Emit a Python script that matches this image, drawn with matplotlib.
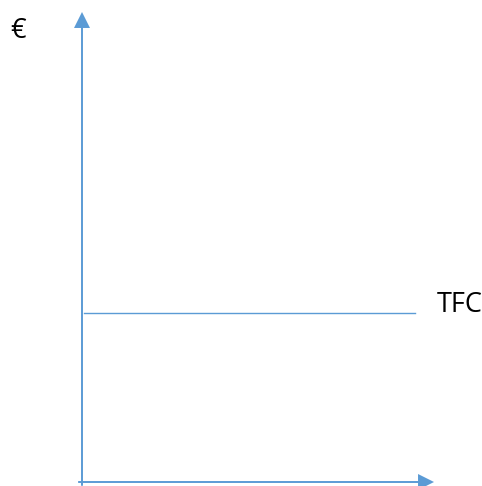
"""Total fixed cost (TFC) sketch: flat line against output."""

import matplotlib

matplotlib.use("Agg")
matplotlib.rcParams["font.family"] = ["Open Sans", "DejaVu Sans"]
import matplotlib.pyplot as plt  # noqa: E402

BLUE = "#5B9BD5"

# schematic values on a 0..10 scale
Q_RANGE = [0.06, 9.46]      # output span of the TFC line
TFC = [3.6, 3.6]            # fixed cost stays constant
AXIS_MAX = 10.0
Y_LABEL = "€"
LINE_LABEL = "TFC"

fig = plt.figure(figsize=(4.82, 4.86), dpi=100)
ax = fig.add_axes([82 / 482, 4 / 486, 352 / 482, 470 / 486])
ax.set_xlim(0, AXIS_MAX)
ax.set_ylim(0, AXIS_MAX)
ax.axis("off")

arrow = dict(width=1.4, headwidth=11.5, headlength=11.5, shrink=0,
             color=BLUE, lw=0)
# x axis
ax.annotate("", xy=(AXIS_MAX, 0), xytext=(-0.11, 0), arrowprops=arrow,
            annotation_clip=False)
# y axis
ax.annotate("", xy=(0, AXIS_MAX), xytext=(0, -0.08), arrowprops=arrow,
            annotation_clip=False)

ax.plot(Q_RANGE, TFC, color=BLUE, lw=1.0, clip_on=False)

ax.text(10.09, TFC[0] + 0.17, LINE_LABEL, fontsize=19.5, ha="left", va="center")
ax.text(-2.05, 9.6, Y_LABEL, fontsize=19.5, ha="left", va="center")

fig.savefig("out.png", dpi=100)
